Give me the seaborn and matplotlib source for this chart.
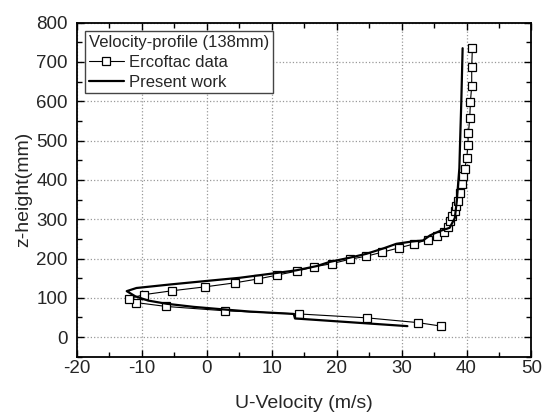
import numpy as np
import pandas as pd
import matplotlib
matplotlib.use("Agg")
import matplotlib.pyplot as plt
from matplotlib.ticker import MultipleLocator
import seaborn as sns

# Ercoftac measured data
erc_u = [36.1, 32.5, 24.7, 14.2, 2.8, -6.2, -10.9, -11.9, -9.7, -5.3, -0.2, 4.3, 7.9,
         10.9, 13.9, 16.6, 19.3, 22.0, 24.6, 27.0, 29.6, 31.9, 34.0, 35.5, 36.6, 37.2,
         37.5, 37.8, 38.2, 38.4, 38.7, 39.0, 39.3, 39.5, 39.7, 40.05, 40.2, 40.3, 40.5,
         40.6, 40.8, 40.8, 40.9]
erc_z = [28, 37, 49, 59, 67, 78, 88, 98, 108, 118, 128, 138, 148,
         158, 168, 179, 187, 198, 206, 216, 227, 237, 248, 257, 267, 279,
         296, 308, 321, 333, 346, 367, 390, 410, 427, 456, 489, 520, 558,
         599, 639, 688, 735]

# Present work (simulation)
pw_u = [30.9, 13.6, 13.4, 6.7, 2.6, -2.0, -6.2, -9.0, -11.0, -12.3, -10.8, -5.6, -0.3,
        5.1, 10.2, 13.8, 16.9, 19.0, 22.0, 24.6, 27.2, 29.2, 31.5, 33.3, 34.4, 35.9,
        37.4, 38.2, 38.5, 38.7, 38.9, 39.0, 39.2, 39.4]
pw_z = [28, 47.5, 59, 65, 70.5, 77, 85, 93, 104, 117, 125, 134, 142.5,
        151, 162, 170, 180.6, 191.6, 202, 212, 225.7, 237.4, 243, 246, 259, 270,
        278, 303, 346, 388, 430, 490, 600, 735]

x_ticks = [-20, -10, 0, 10, 20, 30, 40, 50]
y_ticks = [0, 100, 200, 300, 400, 500, 600, 700, 800]

sns.set_style("ticks")
plt.rcParams['font.family'] = ['Liberation Sans', 'DejaVu Sans']
plt.rcParams['axes.unicode_minus'] = False

fig = plt.figure(figsize=(5.44, 4.12), dpi=100)
ax = fig.add_axes([0.141, 0.134, 0.836, 0.811])

erc = pd.DataFrame({"u": erc_u, "z": erc_z})
pw = pd.DataFrame({"u": pw_u, "z": pw_z})

sns.lineplot(data=erc, x="u", y="z", sort=False, estimator=None, ax=ax,
             color="black", linewidth=0.8, marker="s", markersize=5.5,
             markerfacecolor="white", markeredgecolor="black", markeredgewidth=0.9,
             label="Ercoftac data")
sns.lineplot(data=pw, x="u", y="z", sort=False, estimator=None, ax=ax,
             color="black", linewidth=1.6, label="Present work")

ax.set_xlim(-20, 50)
ax.set_ylim(-50, 800)
ax.set_xticks(x_ticks)
ax.set_yticks(y_ticks)
ax.xaxis.set_minor_locator(MultipleLocator(5))
ax.yaxis.set_minor_locator(MultipleLocator(50))
ax.tick_params(which="both", direction="in", top=True, right=True, color="black")
ax.tick_params(which="major", length=5, width=1.0)
ax.tick_params(which="minor", length=3.5, width=1.0)
ax.tick_params(axis="x", which="major", labelsize=13.5, pad=2.2)
ax.tick_params(axis="y", which="major", labelsize=13.5, pad=6.5)
for s in ax.spines.values():
    s.set_linewidth(1.3)
    s.set_color("black")
ax.grid(True, which="major", linestyle=":", color="#999999", linewidth=0.9)

ax.set_xlabel("U-Velocity (m/s)", fontsize=14, labelpad=13)
ax.set_ylabel("z-height(mm)", fontsize=14, labelpad=3)

leg = ax.legend(loc="upper left", title="Velocity-profile (138mm)", fontsize=12,
                title_fontproperties={"size": 12}, alignment="left",
                fancybox=False, framealpha=1, edgecolor="#444444",
                handlelength=2.1, handletextpad=0.3, labelspacing=0.3,
                borderpad=0.22, borderaxespad=0.5)
leg.get_frame().set_linewidth(1.0)

fig.savefig("out.png", dpi=100)
